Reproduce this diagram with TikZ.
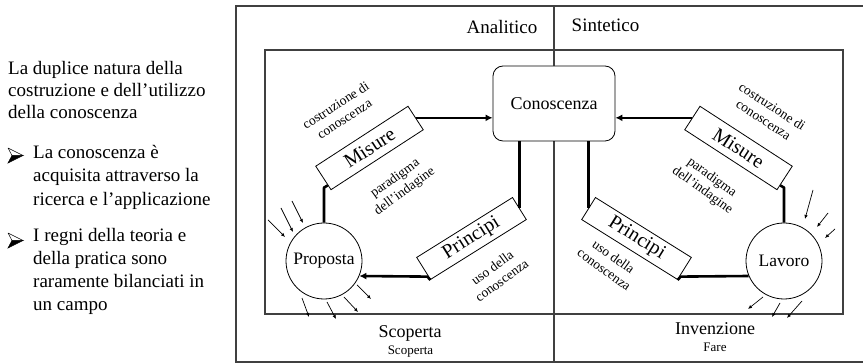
\documentclass[tikz,border=0pt]{standalone}
\usepackage{fontspec}
\setmainfont{Liberation Serif}
\usetikzlibrary{arrows.meta,calc}
\begin{document}
\begin{tikzpicture}[x=1pt,y=1pt,
  frame/.style={draw=black!75, line width=1.1pt},
  box/.style={draw, line width=0.8pt, fill=white, minimum width=110pt, minimum height=28pt, inner sep=0pt, font=\fontsize{20}{22}\selectfont},
  circ/.style={circle, draw, line width=0.8pt, fill=white, minimum size=76pt, inner sep=0pt, font=\fontsize{17.5}{20}\selectfont},
  conn/.style={line width=2.6pt, line join=round},
  tip/.style={-{Latex[length=7pt,width=7pt]}},
  ray/.style={line width=0.7pt, -{Latex[length=4pt,width=3.5pt]}},
  lbl/.style={font=\fontsize{13.5}{16}\selectfont, align=center, inner sep=0pt},
  big/.style={font=\fontsize{18}{22}\selectfont, inner sep=0pt, anchor=base},
  head/.style={font=\fontsize{19}{22}\selectfont, inner sep=0pt, anchor=base},
  small/.style={font=\fontsize{13}{15}\selectfont, inner sep=0pt, anchor=base},
  txt/.style={font=\fontsize{19}{22}\selectfont, inner sep=0pt, anchor=base west}
]
\useasboundingbox (0,0) rectangle (863,363);

% left text
\node[txt] (t1) at (8,288) {La duplice natura della};
\node[txt] (t2) at (8,266) {costruzione e dell’utilizzo};
\node[txt] (t3) at (8,244) {della conoscenza};
\node[txt] (t4) at (33,204) {La conoscenza è};
\node[txt] (t5) at (33,181) {acquisita attraverso la};
\node[txt] (t6) at (33,157) {ricerca e l’applicazione};
\node[txt] (t7) at (33,121) {I regni della teoria e};
\node[txt] (t8) at (33,98) {della pratica sono};
\node[txt] (t9) at (33,75) {raramente bilanciati in};
\node[txt] (t10) at (33,52) {un campo};
\foreach \by in {207.5,122.5} {
  \filldraw[line width=0.5pt, fill=black] (23,\by) -- (12,\by) -- (8,\by-7.5) -- cycle;
  \draw[line width=0.5pt, line join=round] (23,\by) -- (8,\by+7.5) -- (12,\by);
}

% frames
\draw[frame] (236,1) rectangle (866,357);
\draw[frame] (265,49) rectangle (843,313);
\draw[frame] (554,1) -- (554,357);

\node[head] (an) at (502,329) {Analitico};
\node[head] (si) at (605.5,331) {Sintetico};
\node[big] (sc) at (410,25) {Scoperta};
\node[small] (sc2) at (410.5,8) {Scoperta};
\node[big] (in) at (715,28) {Invenzione};
\node[small] (fa) at (715,11) {Fare};

% nodes
\node[draw, fill=white, rounded corners=10pt, minimum width=122pt, minimum height=75pt, line width=0.8pt, font=\fontsize{18}{20}\selectfont] (C) at (554,259.5) {Conoscenza};
\node[box, rotate=33] (ML) at (369.5,215) {Misure};
\node[box, rotate=-33] (MR) at (738.5,215) {Misure};
\node[box, rotate=32, minimum width=113pt, minimum height=26pt] (PL) at (471.5,124.5) {Principi};
\node[box, rotate=-32, minimum width=113pt, minimum height=26pt] (PR) at (636.5,124.5) {Principi};
\node[circ] (P) at (324,102) {Proposta};
\node[circ] (L) at (784,102) {Lavoro};

% rotated labels
\node[lbl, rotate=33] (l1) at (340,251) {costruzione di\\conoscenza};
\node[lbl, rotate=36] (l2) at (400,178) {paradigma\\dell’indagine};
\node[lbl, rotate=36] (l3) at (497,89) {uso della\\conoscenza};
\node[lbl, rotate=-33] (r1) at (768,250) {costruzione di\\conoscenza};
\node[lbl, rotate=-36] (r2) at (707,179) {paradigma\\dell’indagine};
\node[lbl, rotate=-36] (r3) at (609,100) {uso della\\conoscenza};

% connectors
\draw[conn,tip] (ML.east) -- (ML.east -| C.west);
\draw[conn,tip] (MR.west) -- (MR.west -| C.east);
\draw[conn] (PL.east |- C.south) -- (PL.east);
\draw[conn] (PR.west |- C.south) -- (PR.west);
\draw[conn] (P.north) -- ++(0,35) -- ($(ML.south west)!0.2!(ML.north west)$);
\draw[conn] (L.north) -- ++(0,35) -- ($(MR.south east)!0.2!(MR.north east)$);
\draw[conn,tip] (PL.south west) -- ++(-3,3.4) -- (P.-23);
\draw[conn] (PR.south east) -- ++(3,3.4) -- (L.203);

% rays
\draw[ray] (268,143) -- (285,126);
\draw[ray] (281,155) -- (293,131);
\draw[ray] (292,162) -- (303,140);
\draw[ray] (302,65) -- (309,46);
\draw[ray] (327,61) -- (336,44);
\draw[ray] (344,66) -- (358,51);
\draw[ray] (357,78) -- (371,64);
\draw[ray] (813,173) -- (805,144);
\draw[ray] (828,150) -- (817,136);
\draw[ray] (835,134) -- (825,125);
\draw[ray] (763,66) -- (748,54);
\draw[ray] (780,60) -- (772,46);
\draw[ray] (802,62) -- (787,45);
\end{tikzpicture}
\end{document}
